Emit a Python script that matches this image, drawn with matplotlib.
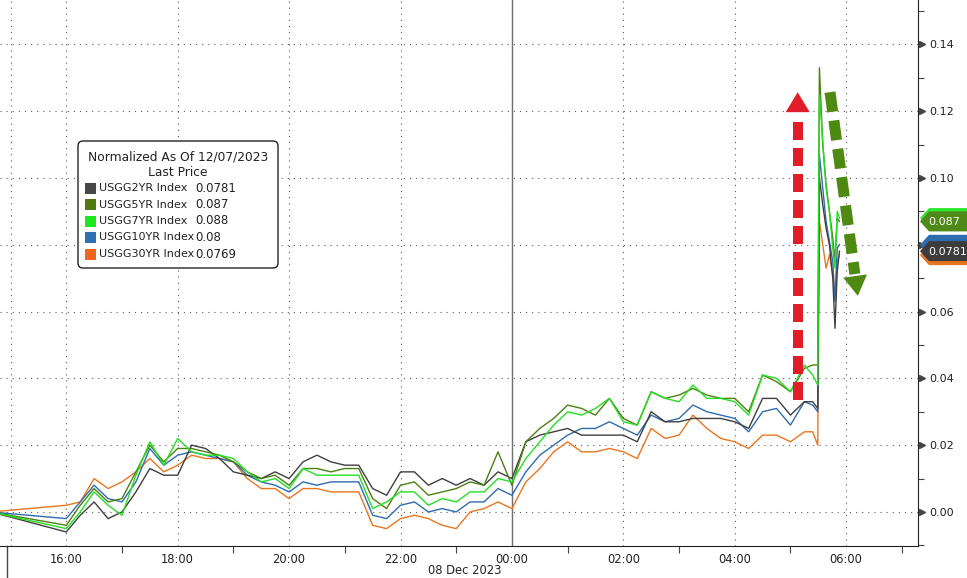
import matplotlib
matplotlib.use('Agg')
import matplotlib.pyplot as plt
from matplotlib.patches import Polygon, FancyBboxPatch, Rectangle
from matplotlib.lines import Line2D
from matplotlib.transforms import IdentityTransform, blended_transform_factory

# ---------------- data (hours relative to 00:00, 08 Dec 2023) ----------------
hours = [-9.35,
         -8.00, -7.75, -7.50, -7.25, -7.00, -6.75, -6.50, -6.25, -6.00, -5.75,
         -5.50, -5.25, -5.00, -4.75, -4.50, -4.25, -4.00, -3.75, -3.50, -3.25,
         -3.00, -2.75, -2.50, -2.25, -2.00, -1.75, -1.50, -1.25, -1.00, -0.75,
         -0.50, -0.25, 0.00, 0.25, 0.50, 0.75, 1.00, 1.25, 1.50, 1.75,
         2.00, 2.25, 2.50, 2.75, 3.00, 3.25, 3.50, 3.75, 4.00, 4.25,
         4.50, 4.75, 5.00, 5.25,
         5.40, 5.49, 5.52, 5.58, 5.64, 5.70, 5.76, 5.80, 5.84, 5.88]

usgg2yr = [0.000,
           -0.006, -0.001, 0.003, -0.002, 0.000, 0.006, 0.013, 0.011, 0.011, 0.020,
           0.019, 0.016, 0.012, 0.011, 0.010, 0.012, 0.010, 0.015, 0.017, 0.015,
           0.014, 0.014, 0.007, 0.005, 0.012, 0.012, 0.008, 0.010, 0.008, 0.010,
           0.008, 0.012, 0.010, 0.021, 0.023, 0.024, 0.025, 0.023, 0.023, 0.023,
           0.023, 0.021, 0.030, 0.027, 0.027, 0.028, 0.028, 0.028, 0.027, 0.025,
           0.034, 0.034, 0.029, 0.033,
           0.033, 0.031, 0.100, 0.092, 0.085, 0.080, 0.070, 0.055, 0.072, 0.0781]

usgg5yr = [0.000,
           -0.004, 0.002, 0.007, 0.003, 0.004, 0.012, 0.020, 0.015, 0.019, 0.019,
           0.018, 0.017, 0.015, 0.012, 0.010, 0.011, 0.008, 0.013, 0.013, 0.012,
           0.013, 0.013, 0.004, 0.001, 0.008, 0.009, 0.005, 0.006, 0.007, 0.009,
           0.008, 0.018, 0.008, 0.021, 0.025, 0.028, 0.032, 0.031, 0.029, 0.034,
           0.028, 0.026, 0.036, 0.034, 0.035, 0.037, 0.035, 0.034, 0.034, 0.030,
           0.041, 0.039, 0.036, 0.043,
           0.044, 0.044, 0.133, 0.110, 0.098, 0.090, 0.082, 0.075, 0.088, 0.087]

usgg7yr = [0.000,
           -0.005, 0.000, 0.006, 0.002, -0.001, 0.011, 0.021, 0.014, 0.022, 0.018,
           0.017, 0.017, 0.016, 0.012, 0.009, 0.010, 0.007, 0.013, 0.011, 0.011,
           0.011, 0.011, 0.001, 0.003, 0.006, 0.006, 0.002, 0.004, 0.003, 0.006,
           0.006, 0.010, 0.009, 0.016, 0.021, 0.026, 0.030, 0.029, 0.031, 0.034,
           0.027, 0.026, 0.036, 0.034, 0.033, 0.038, 0.034, 0.034, 0.033, 0.029,
           0.041, 0.040, 0.036, 0.044,
           0.041, 0.038, 0.125, 0.111, 0.097, 0.090, 0.079, 0.073, 0.090, 0.088]

usgg10yr = [0.000,
            -0.002, 0.003, 0.008, 0.004, 0.003, 0.009, 0.019, 0.014, 0.017, 0.018,
            0.017, 0.016, 0.015, 0.011, 0.009, 0.008, 0.006, 0.009, 0.008, 0.009,
            0.009, 0.009, -0.001, -0.002, 0.002, 0.003, 0.000, 0.001, 0.000, 0.003,
            0.003, 0.007, 0.005, 0.012, 0.017, 0.020, 0.023, 0.025, 0.025, 0.027,
            0.025, 0.023, 0.029, 0.027, 0.028, 0.032, 0.030, 0.029, 0.028, 0.024,
            0.030, 0.031, 0.026, 0.033,
            0.032, 0.030, 0.107, 0.097, 0.087, 0.081, 0.075, 0.063, 0.079, 0.080]

usgg30yr = [0.000,
            0.002, 0.003, 0.010, 0.007, 0.009, 0.012, 0.016, 0.012, 0.014, 0.017,
            0.016, 0.016, 0.015, 0.010, 0.007, 0.007, 0.004, 0.007, 0.007, 0.006,
            0.006, 0.006, -0.004, -0.005, -0.002, -0.001, -0.002, -0.004, -0.005, 0.000,
            0.001, 0.003, 0.001, 0.009, 0.013, 0.018, 0.021, 0.018, 0.018, 0.019,
            0.018, 0.016, 0.025, 0.022, 0.023, 0.029, 0.025, 0.022, 0.021, 0.019,
            0.023, 0.023, 0.021, 0.024,
            0.024, 0.020, 0.087, 0.080, 0.073, 0.077, 0.071, 0.065, 0.075, 0.0769]

series_names = ["USGG2YR Index", "USGG5YR Index", "USGG7YR Index",
                "USGG10YR Index", "USGG30YR Index"]
last_prices = ["0.0781", "0.087", "0.088", "0.08", "0.0769"]
last_values = [0.0781, 0.087, 0.088, 0.080, 0.0769]
series_values = [usgg2yr, usgg5yr, usgg7yr, usgg10yr, usgg30yr]
line_colors = ["#3f3f3f", "#4d7f12", "#22e022", "#2e6cb0", "#e8761e"]
legend_colors = ["#474747", "#4e7a0f", "#1ee61e", "#2f6fb0", "#f0661a"]

x_tick_pos = [-8, -6, -4, -2, 0, 2, 4, 6]
x_tick_labels = ["16:00", "18:00", "20:00", "22:00", "00:00", "02:00", "04:00", "06:00"]
x_minor_pos = [-7, -5, -3, -1, 1, 3, 5, 7]
y_tick_pos = [0.00, 0.02, 0.04, 0.06, 0.08, 0.10, 0.12, 0.14]
# the 0.08 label sits under the last-value tags, as in the reference
y_tick_labels = ["0.00", "0.02", "0.04", "0.06", "", "0.10", "0.12", "0.14"]
y_minor_pos = [-0.01, 0.01, 0.03, 0.05, 0.07, 0.09, 0.11, 0.13, 0.15]

FONT = ['DejaVu Sans']

# ---------------- figure ----------------
W, H = 967, 578
fig = plt.figure(figsize=(W / 100, H / 100), dpi=100)
ax = fig.add_axes([0, 32 / H, 918 / W, 546 / H])
ax.set_xlim(-9.19, 7.29)
ax.set_ylim(-0.0102, 0.1533)

# grid
GRID = dict(color='#5a5a5a', lw=0.8, ls=(0, (1, 4.5)), zorder=0)
for xp in x_tick_pos + [-9]:
    ax.axvline(xp, **GRID)
for yp in y_tick_pos:
    ax.axhline(yp, **GRID)
ax.axvline(0, color='#707070', lw=1.0, zorder=1)

# data lines
draw_order = [4, 3, 0, 1, 2]
for i in draw_order:
    ax.plot(hours, series_values[i], color=line_colors[i], lw=1.0, zorder=3)

# spines / ticks
for s in ['left', 'top']:
    ax.spines[s].set_visible(False)
ax.spines['right'].set_color('#222222')
ax.spines['bottom'].set_color('#222222')
ax.yaxis.tick_right()
ax.set_yticks(y_tick_pos)
ax.set_yticklabels(y_tick_labels, fontsize=8, family=FONT, color='#222222')
ax.set_yticks(y_minor_pos, minor=True)
ax.tick_params(axis='y', which='major', length=0, pad=8)
ax.tick_params(axis='y', which='minor', length=4, width=0.8, color='#444444', direction='out')
ax.set_xticks(x_tick_pos)
ax.set_xticklabels(x_tick_labels, fontsize=8.3, family=FONT, color='#222222')
ax.set_xticks(x_minor_pos, minor=True)
ax.tick_params(axis='x', which='major', length=0, pad=5)
ax.tick_params(axis='x', which='minor', length=5, width=0.8, color='#444444', direction='out')

# right-axis triangle markers at major ticks
ax.plot([1.004] * len(y_tick_pos), y_tick_pos, ls='none', marker='>', ms=4.5,
        color='#444444', transform=blended_transform_factory(ax.transAxes, ax.transData),
        clip_on=False, zorder=5)

# date separator below axis
btr = blended_transform_factory(ax.transData, ax.transAxes)
ax.add_line(Line2D([-9.06, -9.06], [0, -0.06], transform=btr, color='#444444', lw=1,
                   clip_on=False))
fig.text(465 / W, 1 - 571 / H, "08 Dec 2023", ha='center', va='center', fontsize=8.3,
         family=FONT, color='#222222')

# ---------------- legend box ----------------
fig.canvas.draw()
ident = IdentityTransform()


def px(x, y):
    """figure pixel (top-left origin) -> display coords"""
    return (x, H - y)


box = FancyBboxPatch(px(78, 268), 200, 127, boxstyle="round,pad=0,rounding_size=5",
                     transform=ident, facecolor='white', edgecolor='#222222', lw=1.0,
                     zorder=10)
fig.patches.append(box)
fig.text(178 / W, 1 - 157 / H, "Normalized As Of 12/07/2023", ha='center', va='center',
         fontsize=8.8, family=FONT, color='#222222', zorder=11)
fig.text(178 / W, 1 - 173 / H, "Last Price", ha='center', va='center',
         fontsize=8.8, family=FONT, color='#222222', zorder=11)
row_y = [188, 204.5, 221, 237.5, 254]
for i in range(5):
    sq = Rectangle(px(85, row_y[i] + 5.5), 11, 11, transform=ident,
                   facecolor=legend_colors[i], edgecolor='none', zorder=11)
    fig.patches.append(sq)
    fig.text(99 / W, 1 - row_y[i] / H, series_names[i], ha='left', va='center',
             fontsize=8, family=FONT, color='#222222', zorder=11)
    fig.text(195 / W, 1 - row_y[i] / H, last_prices[i], ha='left', va='center',
             fontsize=8.5, family=FONT, color='#222222', zorder=11)

# ---------------- right-side last value tags ----------------
tag_fill = ["#3c3c3c", "#4f8a18", "#2ee82e", "#2e6cb0", "#e8761e"]
tag_order = [2, 1, 4, 3, 0]
tag_text_shown = [True, True, False, False, False]
x_right = ax.transAxes.transform((1, 0))[0]
for i in tag_order:
    yc = ax.transData.transform((0, last_values[i]))[1]
    h2 = 10
    x0 = x_right + 2
    pts = [(x0, yc), (x0 + 9, yc + h2), (W + 2, yc + h2), (W + 2, yc - h2), (x0 + 9, yc - h2)]
    poly = Polygon(pts, closed=True, transform=ident, facecolor=tag_fill[i],
                   edgecolor='none', zorder=12)
    fig.patches.append(poly)
    if tag_text_shown[i]:
        fig.text((x0 + 8) / W, (yc - 1) / H, last_prices[i], ha='left', va='center',
                 fontsize=8, family=FONT, color='white', zorder=13)

# ---------------- annotation arrows ----------------


def draw_arrow(start, tip, color, head_len=20, head_w=12, lw_px=10, dash=(1.8, 0.8)):
    (sx, sy) = ax.transData.transform(start)
    (tx, ty) = ax.transData.transform(tip)
    dx, dy = tx - sx, ty - sy
    L = (dx ** 2 + dy ** 2) ** 0.5
    ux, uy = dx / L, dy / L
    bx, by = tx - ux * head_len, ty - uy * head_len
    nx, ny = -uy, ux
    ln = Line2D([sx, bx - ux * 2], [sy, by - uy * 2], transform=ident, color=color,
                lw=lw_px * 0.72, solid_capstyle='butt', dash_capstyle='butt', zorder=8)
    ln.set_dashes(dash)
    fig.lines.append(ln)
    head = Polygon([(tx, ty), (bx + nx * head_w, by + ny * head_w),
                    (bx - nx * head_w, by - ny * head_w)], closed=True,
                   transform=ident, facecolor=color, edgecolor='none', zorder=8)
    fig.patches.append(head)


draw_arrow((5.13, 0.0335), (5.13, 0.1257), '#e11d2a')
draw_arrow((5.71, 0.1257), (6.21, 0.0647), '#4e8a12', lw_px=11)

fig.savefig('out.png', dpi=100)
